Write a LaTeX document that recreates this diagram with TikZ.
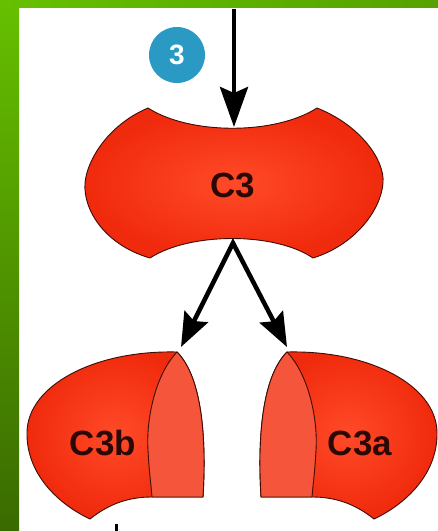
\documentclass[tikz,border=0pt]{standalone}
\usepackage{fontspec}
\setmainfont{Liberation Sans}
\usetikzlibrary{arrows.meta}
\definecolor{gtl}{HTML}{66C000}
\definecolor{gtr}{HTML}{56A200}
\definecolor{gbl}{HTML}{3A6A00}
\definecolor{redin}{HTML}{FF4A28}
\definecolor{redout}{HTML}{F02A0C}
\definecolor{redlight}{HTML}{F5553A}
\definecolor{edge}{HTML}{3E0C06}
\definecolor{lbl}{HTML}{2A0806}
\definecolor{badgeblue}{HTML}{2A9AC4}
\begin{document}
\begin{tikzpicture}[x=1pt,y=-1pt,
  body/.style={draw=edge, line width=0.9pt, shading=radial, inner color=redin, outer color=redout},
  lightpart/.style={draw=edge, line width=0.9pt, fill=redlight},
  lab/.style={text=lbl, font=\bfseries\fontsize{35}{35}\selectfont, inner sep=0pt},
  badge/.style={circle, fill=badgeblue, minimum size=56pt, inner sep=0pt, text=white, font=\bfseries\fontsize{28}{28}\selectfont},
  arr/.style={line width=4.5pt, -{Stealth[length=40pt, width=28pt, inset=6pt]}},
  arrtwo/.style={line width=4.5pt, line join=miter, {Stealth[length=34pt, width=26pt, inset=5pt]}-{Stealth[length=34pt, width=26pt, inset=5pt]}}]
\useasboundingbox (0,0) rectangle (438,531);
% frame
\fill[white] (0,0) rectangle (438,531);
\shade[top color=gtl, bottom color=gbl] (0,0) rectangle (19,531);
\shade[left color=gtl, right color=gtr] (0,0) rectangle (438,7);

% C3 body
\path[body] (148,108) .. controls (190,135) and (275,135) .. (317,108)
  .. controls (360,125) and (385,160) .. (383,183)
  .. controls (381,210) and (355,245) .. (313,258)
  .. controls (275,232) and (190,232) .. (150,258)
  .. controls (105,245) and (83,210) .. (85,183)
  .. controls (87,160) and (108,125) .. (148,108) -- cycle;
\node[lab] (c3) at (233,185) {C3};

% C3b fragment
\path[body] (177,352) .. controls (95,350) and (28,385) .. (27,432)
  .. controls (26,475) and (60,505) .. (90,519)
  .. controls (110,503) and (130,497) .. (152,497)
  -- (203,497)
  .. controls (207,430) and (200,375) .. (177,352) -- cycle;
\path[lightpart] (177,352) .. controls (155,375) and (146,420) .. (148,450)
  .. controls (149,470) and (151,485) .. (152,497)
  -- (203,497)
  .. controls (207,430) and (200,375) .. (177,352) -- cycle;
% C3a fragment
\path[body] (287,352) .. controls (369,350) and (436,385) .. (437,432)
  .. controls (438,475) and (404,505) .. (374,519)
  .. controls (354,503) and (334,497) .. (312,497)
  -- (261,497)
  .. controls (257,430) and (264,375) .. (287,352) -- cycle;
\path[lightpart] (287,352) .. controls (309,375) and (318,420) .. (316,450)
  .. controls (315,470) and (313,485) .. (312,497)
  -- (261,497)
  .. controls (257,430) and (264,375) .. (287,352) -- cycle;
\node[lab] (c3b) at (103,443) {C3b};
\node[lab] (c3a) at (360,443) {C3a};

% badge
\node[badge] (b3) at (177,55) {3};

% arrows
\coordinate (src) at (234,9);
\coordinate (c3in) at (234,127);
\draw[arr] (src) -- (c3in);
\coordinate (split) at (233,243);
\coordinate (tipb) at (181,347);
\coordinate (tipa) at (287,347);
\draw[arrtwo] (tipb) -- (split) -- (tipa);

% cut-off mark at the bottom
\coordinate (marktop) at (116,524);
\coordinate (markbot) at (116,531);
\draw[line width=3pt] (marktop) -- (markbot);
\end{tikzpicture}
\end{document}
